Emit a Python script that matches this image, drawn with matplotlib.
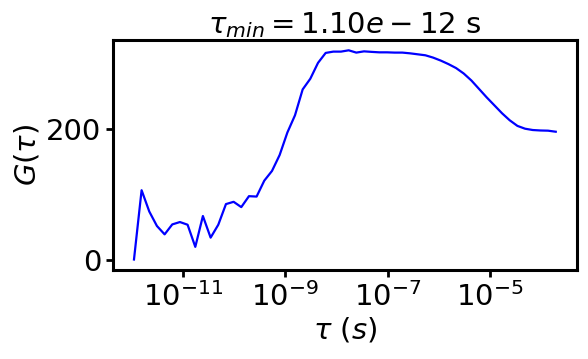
import matplotlib
matplotlib.use("Agg")
import matplotlib.pyplot as plt

tau = [1.10e-12, 1.55e-12, 2.19e-12, 3.09e-12, 4.37e-12, 6.17e-12, 8.71e-12,
       1.23e-11, 1.74e-11, 2.45e-11, 3.47e-11, 4.90e-11, 6.92e-11, 9.77e-11,
       1.38e-10, 1.95e-10, 2.75e-10, 3.89e-10, 5.50e-10, 7.76e-10, 1.10e-09,
       1.55e-09, 2.19e-09, 3.09e-09, 4.37e-09, 6.17e-09, 8.71e-09, 1.23e-08,
       1.74e-08, 2.45e-08, 3.47e-08, 4.90e-08, 6.92e-08, 9.77e-08, 1.38e-07,
       1.95e-07, 2.75e-07, 3.89e-07, 5.50e-07, 7.76e-07, 1.10e-06, 1.55e-06,
       2.19e-06, 3.09e-06, 4.37e-06, 6.17e-06, 8.71e-06, 1.23e-05, 1.74e-05,
       2.45e-05, 3.47e-05, 4.90e-05, 6.92e-05, 9.77e-05, 1.38e-04, 1.95e-04]

G = [0.0, 105.8, 73.3, 51.2, 38.4, 53.6, 57.2, 53.1, 19.3, 66.4, 33.4, 53.1,
     84.6, 88.1, 80.0, 96.7, 96.1, 120.4, 135.2, 159.5, 193.9, 220.2, 259.7,
     276.0, 300.2, 315.4, 317.4, 317.4, 319.4, 315.9, 317.8, 317.0, 316.3,
     316.3, 315.9, 315.9, 314.8, 313.3, 311.8, 308.3, 303.7, 298.4, 292.3,
     284.0, 273.3, 260.4, 247.5, 235.4, 223.2, 212.6, 204.0, 199.7, 197.7,
     197.0, 196.7, 195.1]

tau_min = 1.10e-12
fs = 21

fig = plt.figure(figsize=(5.88, 3.59), dpi=100)
ax = fig.add_axes([0.192, 0.248, 0.789, 0.641])
ax.plot(tau, G, color="blue", linewidth=1.6)
ax.set_xscale("log")
ax.minorticks_off()
ax.set_yticks([0, 200])
for s in ax.spines.values():
    s.set_linewidth(2.2)
ax.tick_params(axis="both", which="major", labelsize=fs, length=5, width=2)
ax.set_xlabel(r"$\tau\ (s)$", fontsize=fs, labelpad=3)
ax.set_ylabel(r"$G(\tau)$", fontsize=fs, labelpad=3)
ax.set_title(r"$\tau_{min} = %.2e$ s" % tau_min, fontsize=fs, pad=4)
fig.savefig("out.png", dpi=100)
